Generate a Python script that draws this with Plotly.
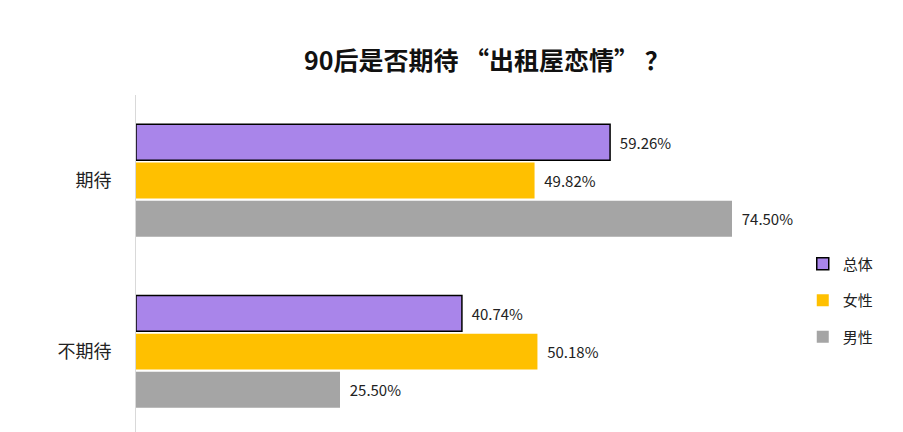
import plotly.graph_objects as go

categories = ["期待", "不期待"]
seriesNames = ["总体", "女性", "男性"]
totalValues = [59.26, 40.74]
femaleValues = [49.82, 50.18]
maleValues = [74.50, 25.50]
colors = ["#A985EA", "#FFC000", "#A5A5A5"]
outlines = ["#000000", "#FFC000", "#A5A5A5"]

fig = go.Figure()
for name, values, color, outline in zip(seriesNames, [totalValues, femaleValues, maleValues], colors, outlines):
    fig.add_bar(y=categories, x=values, name=name, orientation="h", legendgroup=name,
                marker=dict(color=color, line=dict(color=outline, width=1.5 if outline == "#000000" else 0)),
                text=["  %.2f%%" % v for v in values], textposition="outside",
                textfont=dict(size=15, color="#222222"), cliponaxis=False)

# the page adds an 8px body margin, so margins are reduced by that
fig.update_layout(
    width=895, height=424,
    margin=dict(l=128, r=7, t=87, b=0, autoexpand=False),
    paper_bgcolor="white", plot_bgcolor="white",
    font=dict(family="Noto Sans CJK SC", color="#222222"),
    title=dict(text="<b>90后是否期待 “出租屋恋情” ？</b>", x=0.535, y=0.875, xanchor="center",
               yanchor="middle", yref="container", automargin=False,
               font=dict(size=25, color="#111111")),
    barmode="group", bargap=0.33, bargroupgap=0.06,
    xaxis=dict(range=[0, 95], visible=False, automargin=False),
    yaxis=dict(range=[1.47, -0.5], showline=True, linecolor="#D9D9D9", linewidth=1, automargin=False,
               ticks="", tickfont=dict(size=18, color="#222222"), ticklabelstandoff=20, showgrid=False),
    legend=dict(xref="container", yref="container", x=0.888, y=0.31, xanchor="left", yanchor="middle",
                font=dict(size=15), itemwidth=30, tracegroupgap=14, bgcolor="rgba(0,0,0,0)"),
)
fig.write_html("out.html")
